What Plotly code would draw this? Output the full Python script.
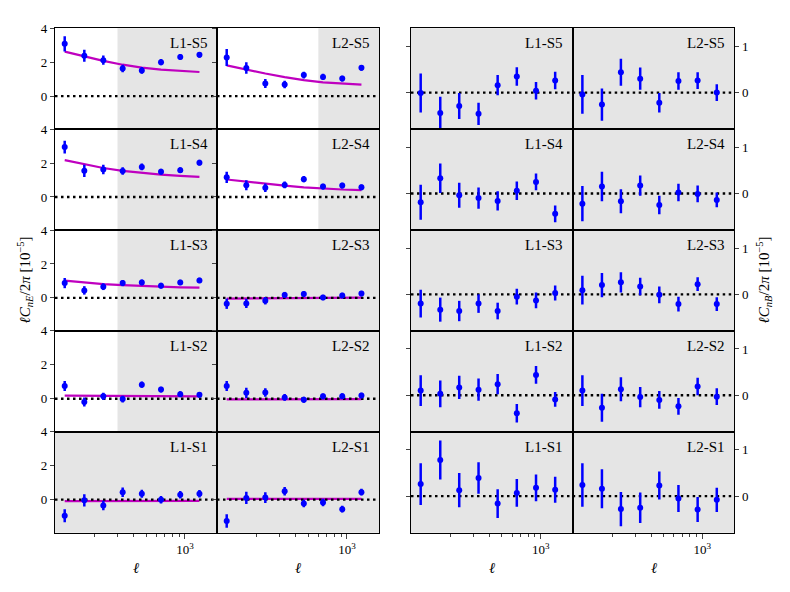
import plotly.graph_objects as go

# multipole bin centres
ell = [117, 166, 233, 329, 463, 652, 919, 1294]
sources = ["S5", "S4", "S3", "S2", "S1"]

# nE cross spectra (rows S5..S1), units 1e-5
nE_L1 = [[3.08, 2.38, 2.12, 1.63, 1.51, 2.00, 2.31, 2.43],
         [2.94, 1.54, 1.62, 1.53, 1.77, 1.49, 1.58, 2.02],
         [0.87, 0.44, 0.66, 0.87, 0.91, 0.72, 0.91, 1.03],
         [0.75, -0.19, 0.14, -0.02, 0.83, 0.54, 0.27, 0.23],
         [-0.95, -0.04, -0.35, 0.44, 0.35, 0.00, 0.29, 0.35]]
nE_L1_err = [[0.45, 0.35, 0.27, 0.22, 0.20, 0.18, 0.17, 0.17],
             [0.38, 0.36, 0.28, 0.22, 0.20, 0.18, 0.17, 0.17],
             [0.30, 0.25, 0.20, 0.18, 0.17, 0.17, 0.16, 0.16],
             [0.30, 0.27, 0.22, 0.20, 0.18, 0.17, 0.17, 0.16],
             [0.38, 0.36, 0.28, 0.28, 0.24, 0.22, 0.22, 0.22]]
nE_L2 = [[2.27, 1.65, 0.74, 0.68, 1.24, 1.13, 1.03, 1.67],
         [1.16, 0.69, 0.55, 0.71, 1.05, 0.61, 0.67, 0.57],
         [-0.35, -0.33, -0.17, 0.17, 0.23, 0.02, 0.14, 0.25],
         [0.75, 0.35, 0.37, 0.08, -0.06, 0.14, 0.15, 0.19],
         [-1.26, 0.10, 0.12, 0.50, -0.23, -0.17, -0.56, 0.44]]
nE_L2_err = [[0.50, 0.34, 0.27, 0.22, 0.20, 0.18, 0.17, 0.17],
             [0.33, 0.30, 0.25, 0.20, 0.18, 0.17, 0.17, 0.17],
             [0.30, 0.27, 0.22, 0.18, 0.17, 0.16, 0.16, 0.16],
             [0.30, 0.30, 0.25, 0.20, 0.18, 0.17, 0.17, 0.16],
             [0.40, 0.36, 0.32, 0.25, 0.22, 0.22, 0.20, 0.20]]

# model curves
thE_L1 = [[2.62, 2.33, 2.08, 1.85, 1.68, 1.56, 1.48, 1.42],
          [2.17, 1.94, 1.71, 1.54, 1.41, 1.32, 1.24, 1.18],
          [1.02, 0.91, 0.81, 0.75, 0.70, 0.66, 0.62, 0.60],
          [0.19, 0.18, 0.17, 0.16, 0.16, 0.15, 0.15, 0.14],
          [-0.09, -0.09, -0.08, -0.08, -0.08, -0.08, -0.07, -0.07]]
thE_L2 = [[1.81, 1.56, 1.33, 1.12, 0.94, 0.81, 0.73, 0.67],
          [1.03, 0.90, 0.78, 0.67, 0.57, 0.49, 0.44, 0.40],
          [-0.04, -0.03, -0.02, -0.01, 0.00, 0.01, 0.01, 0.01],
          [-0.04, -0.04, -0.03, -0.03, -0.02, -0.02, -0.02, -0.02],
          [0.04, 0.04, 0.04, 0.05, 0.05, 0.05, 0.05, 0.05]]

# nB cross spectra
nB_L1 = [[-0.01, -0.44, -0.29, -0.46, 0.16, 0.35, 0.04, 0.26],
         [-0.19, 0.33, -0.04, -0.10, -0.16, 0.06, 0.25, -0.44],
         [-0.20, -0.33, -0.36, -0.20, -0.36, -0.05, -0.13, 0.03],
         [0.10, 0.03, 0.17, 0.12, 0.24, -0.39, 0.44, -0.09],
         [0.26, 0.78, 0.13, 0.39, -0.16, 0.07, 0.18, 0.14]]
nB_L1_err = [[0.42, 0.35, 0.28, 0.24, 0.22, 0.20, 0.19, 0.19],
             [0.38, 0.32, 0.27, 0.23, 0.21, 0.20, 0.18, 0.18],
             [0.30, 0.26, 0.22, 0.20, 0.18, 0.17, 0.17, 0.16],
             [0.33, 0.29, 0.25, 0.24, 0.22, 0.20, 0.19, 0.16],
             [0.45, 0.42, 0.37, 0.34, 0.31, 0.30, 0.29, 0.28]]
nB_L2 = [[-0.04, -0.26, 0.44, 0.30, -0.22, 0.25, 0.26, 0.00],
         [-0.22, 0.15, -0.17, 0.17, -0.25, 0.02, -0.01, -0.14],
         [0.09, 0.20, 0.26, 0.17, -0.01, -0.21, 0.22, -0.21],
         [0.10, -0.27, 0.13, -0.04, -0.10, -0.24, 0.19, -0.03],
         [0.24, 0.16, -0.28, -0.25, 0.23, -0.05, -0.29, -0.08]]
nB_L2_err = [[0.42, 0.35, 0.29, 0.24, 0.21, 0.19, 0.18, 0.18],
             [0.38, 0.32, 0.26, 0.22, 0.20, 0.19, 0.18, 0.16],
             [0.31, 0.26, 0.22, 0.19, 0.18, 0.16, 0.15, 0.15],
             [0.33, 0.30, 0.26, 0.22, 0.19, 0.18, 0.19, 0.18],
             [0.47, 0.42, 0.37, 0.33, 0.30, 0.29, 0.27, 0.26]]

# start of grey (excluded) region per row
XMIN, XMAX = 10 ** 1.993, 10 ** 3.248
shade_L1 = [300, 300, 300, 300, XMIN]
shade_L2 = [600, 600, XMIN, XMIN, XMIN]

W, H = 790, 592
FONT = "Liberation Serif, Times New Roman, serif"
col_px = [(55, 217), (217, 379), (411, 572.7), (572.7, 734.3)]
row_top, row_h = 21.5, 102.1
YR_E = [-1.95, 4.0]
YR_B = [-0.79, 1.39]
BLUE, MAG, GREY = "#0000ff", "#bf00bf", "#e5e5e5"

fig = go.Figure()
layout = {}
shapes = []
annotations = []

for r in range(5):
    for c in range(4):
        k = r * 4 + c + 1
        sfx = "" if k == 1 else str(k)
        xref, yref = "x" + sfx, "y" + sfx
        y1 = 1 - (row_top + r * row_h) / H
        y0 = 1 - (row_top + (r + 1) * row_h) / H
        xa = dict(
            domain=[col_px[c][0] / W, col_px[c][1] / W], anchor=yref,
            type="log", range=[1.993, 3.248],
            showline=True, mirror=True, linecolor="black", linewidth=1.3,
            showgrid=False, zeroline=False,
        )
        if r == 4:
            xa.update(
                ticks="outside", ticklen=5, tickwidth=1,
                tickvals=[1000], ticktext=["10<sup>3</sup>"],
                minor=dict(tickvals=[200, 300, 400, 500, 600, 700, 800, 900],
                           ticks="outside", ticklen=3, tickwidth=0.8),
                tickfont=dict(family=FONT, size=13, color="black"),
            )
        else:
            xa.update(ticks="", showticklabels=False, tickvals=[])
        layout["xaxis" + sfx] = xa

        left = c < 2
        layout["yaxis" + sfx] = dict(
            domain=[y0, y1], anchor=xref,
            range=YR_E if left else YR_B,
            tickvals=[0, 2, 4] if left else [0, 1],
            side="right" if c == 3 else "left",
            showticklabels=(c == 0 or c == 3),
            showline=True, mirror=True, linecolor="black", linewidth=1.3,
            showgrid=False, zeroline=False,
            ticks="outside", ticklen=4, tickwidth=1,
            tickfont=dict(family=FONT, size=13, color="black"),
        )

        lens = "L1" if c % 2 == 0 else "L2"
        if left:
            x0 = shade_L1[r] if c == 0 else shade_L2[r]
        else:
            x0 = XMIN
        shapes.append(dict(type="rect", xref=xref, yref=yref + " domain",
                           x0=x0, x1=XMAX, y0=0, y1=1, fillcolor=GREY,
                           line=dict(width=0), layer="below"))

        if left:
            vals = (nE_L1 if c == 0 else nE_L2)[r]
            errs = (nE_L1_err if c == 0 else nE_L2_err)[r]
            th = (thE_L1 if c == 0 else thE_L2)[r]
            fig.add_trace(go.Scatter(x=ell, y=th, mode="lines", xaxis=xref, yaxis=yref,
                                     line=dict(color=MAG, width=2.2), showlegend=False))
        else:
            vals = (nB_L1 if c == 2 else nB_L2)[r]
            errs = (nB_L1_err if c == 2 else nB_L2_err)[r]

        fig.add_trace(go.Scatter(x=[XMIN, XMAX], y=[0, 0], mode="lines",
                                 xaxis=xref, yaxis=yref, showlegend=False,
                                 line=dict(color="black", width=2.4, dash="2.5px,3.5px")))
        fig.add_trace(go.Scatter(
            x=ell, y=vals, mode="markers", xaxis=xref, yaxis=yref, showlegend=False,
            marker=dict(color=BLUE, size=6),
            error_y=dict(type="data", array=errs, color=BLUE, thickness=2.5, width=0),
        ))

        annotations.append(dict(
            text=f"{lens}-{sources[r]}", xref=xref + " domain", yref=yref + " domain",
            x=0.955, y=0.95, xanchor="right", yanchor="top", showarrow=False,
            font=dict(family=FONT, size=15, color="black")))

# axis titles
ymid = 1 - (row_top + 2.5 * row_h) / H
for txt, xp in [("<i>ℓC</i><sub><i>nE</i></sub>/2<i>π</i> [10<sup>−5</sup>]", 25),
                ("<i>ℓC</i><sub><i>nB</i></sub>/2<i>π</i> [10<sup>−5</sup>]", 764)]:
    annotations.append(dict(
        text=txt, xref="paper", yref="paper", x=xp / W, y=ymid, textangle=-90,
        xanchor="center", yanchor="middle",
        showarrow=False, font=dict(family=FONT, size=15, color="black")))
for c in range(4):
    annotations.append(dict(
        text="<i>ℓ</i>", xref="paper", yref="paper",
        x=(col_px[c][0] + col_px[c][1]) / 2 / W, y=1 - 568 / H,
        xanchor="center", yanchor="middle",
        showarrow=False, font=dict(family=FONT, size=15, color="black")))

fig.update_layout(**layout)
fig.update_layout(
    width=W, height=H, margin=dict(l=0, r=0, t=0, b=0),
    paper_bgcolor="white", plot_bgcolor="white",
    shapes=shapes, annotations=annotations, showlegend=False,
)
fig.write_html("out.html", config={"displayModeBar": False},
               post_script="document.body.style.margin='0';")
